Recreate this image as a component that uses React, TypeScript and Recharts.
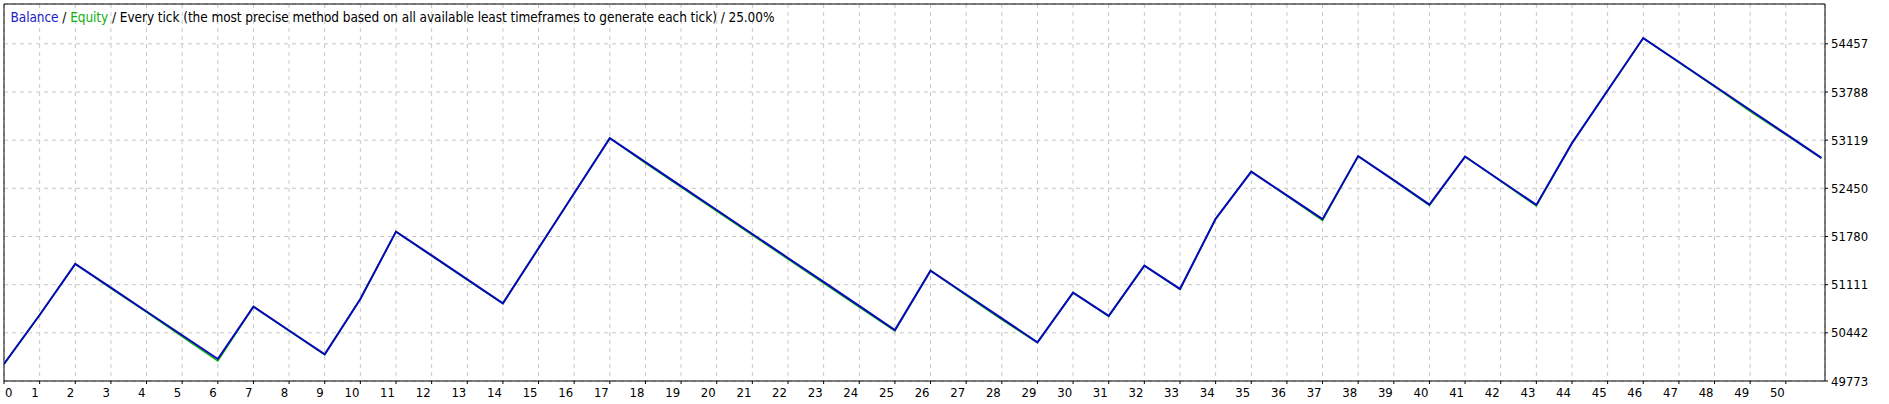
import React from "react";
import { LineChart, Line, XAxis, YAxis, CartesianGrid, ReferenceLine } from "recharts";

const trades = [
  0, 1, 2, 3, 4, 5, 6, 7, 8, 9, 10, 11, 12, 13, 14, 15, 16, 17, 18, 19, 20, 21, 22, 23, 24, 25,
  26, 27, 28, 29, 30, 31, 32, 33, 34, 35, 36, 37, 38, 39, 40, 41, 42, 43, 44, 45, 46, 47, 48, 49, 50, 51,
];

const balance = [
  50009, 50690, 51399, 51069, 50739, 50409, 50079, 50806, 50475, 50144, 50913, 51848, 51517, 51185,
  50853, 51617, 52382, 53147, 52814, 52481, 52148, 51815, 51482, 51149, 50816, 50482, 51306, 50974,
  50643, 50311, 51001, 50677, 51376, 51052, 52025, 52682, 52351, 52021, 52897, 52563, 52224, 52891,
  52555, 52219, 53077, 53808, 54537, 54204, 53871, 53538, 53205, 52872,
];

const equity = [
  50009, 50690, 51399, 51060, 50728, 50390, 50050, 50806, 50468, 50140, 50913, 51848, 51510, 51178,
  50848, 51617, 52382, 53147, 52800, 52466, 52133, 51800, 51467, 51134, 50800, 50470, 51306, 50964,
  50625, 50305, 51001, 50670, 51376, 51045, 52025, 52682, 52345, 52005, 52897, 52555, 52210, 52891,
  52548, 52205, 53077, 53808, 54537, 54198, 53862, 53520, 53195, 52866,
];

const xTicks = [
  0, 1, 2, 3, 4, 5, 6, 7, 8, 9, 10, 11, 12, 13, 14, 15, 16, 17, 18, 19, 20, 21, 22, 23, 24, 25,
  26, 27, 28, 29, 30, 31, 32, 33, 34, 35, 36, 37, 38, 39, 40, 41, 42, 43, 44, 45, 46, 47, 48, 49, 50,
];
const yTicks = [49773, 50442, 51111, 51780, 52450, 53119, 53788, 54457];

const Y_MIN = 49773;
const Y_MAX = 55010;
const X_MAX = 51.1;

const FONT = '"DejaVu Sans Condensed", "DejaVu Sans", sans-serif';

const data = trades.map((t, i) => ({ trade: t, balance: balance[i], equity: equity[i] }));

function TradeTick(props: any) {
  const { x, y, payload } = props;
  const first = payload.value === 0;
  return (
    <text
      x={first ? x + 1 : x - 1}
      y={y + 11}
      textAnchor={first ? "start" : "end"}
      fontSize={13}
      fontFamily={FONT}
      fill="#000"
    >
      {payload.value}
    </text>
  );
}

export default function App() {
  return (
    <div style={{ position: "absolute", left: 0, top: 0, width: 1889, height: 404, background: "#fff" }}>
      <LineChart width={1889} height={404} data={data} margin={{ top: 4, right: 0, bottom: 0, left: 4 }}>
        <CartesianGrid stroke="#c8c8c8" strokeDasharray="4 4" />
        <XAxis
          dataKey="trade"
          type="number"
          domain={[0, X_MAX]}
          ticks={xTicks}
          interval={0}
          height={23}
          tickSize={3}
          tickLine={{ stroke: "#000" }}
          axisLine={{ stroke: "#000" }}
          tick={<TradeTick />}
          allowDataOverflow
        />
        <YAxis
          orientation="right"
          type="number"
          domain={[Y_MIN, Y_MAX]}
          ticks={yTicks}
          interval={0}
          width={64}
          tickSize={3}
          tickMargin={3}
          tickLine={{ stroke: "#000" }}
          axisLine={{ stroke: "#000" }}
          tick={{ fill: "#000", fontSize: 13, fontFamily: FONT }}
          allowDataOverflow
        />
        <ReferenceLine y={Y_MAX} stroke="#000" />
        <ReferenceLine x={0} stroke="#000" />
        <Line
          dataKey="equity"
          stroke="#00b400"
          strokeWidth={1.5}
          dot={false}
          isAnimationActive={false}
        />
        <Line
          dataKey="balance"
          stroke="#0808b8"
          strokeWidth={2}
          dot={false}
          isAnimationActive={false}
        />
        <text x={10.5} y={22} fontSize={13.5} fontFamily={FONT} textLength={764} lengthAdjust="spacing">
          <tspan fill="#2020c8">Balance</tspan>
          <tspan fill="#000"> / </tspan>
          <tspan fill="#10b010">Equity</tspan>
          <tspan fill="#000">
            {" / Every tick (the most precise method based on all available least timeframes to generate each tick) / 25.00%"}
          </tspan>
        </text>
      </LineChart>
    </div>
  );
}
